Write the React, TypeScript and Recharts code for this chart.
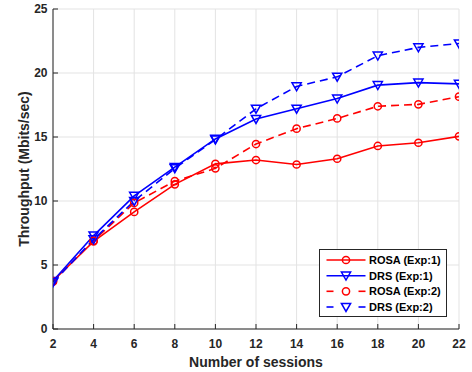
import React from 'react';
import { LineChart, Line, XAxis, YAxis, CartesianGrid, Legend } from 'recharts';

// Number of concurrent sessions (x values)
const sessions = [2, 4, 6, 8, 10, 12, 14, 16, 18, 20, 22];

// Throughput in Mbits/sec for each scheme and experiment
const rosaExp1 = [3.75, 6.85, 9.15, 11.3, 12.9, 13.2, 12.85, 13.3, 14.3, 14.55, 15.05];
const drsExp1 = [3.75, 7.3, 10.4, 12.65, 14.85, 16.4, 17.2, 18.0, 19.05, 19.25, 19.15];
const rosaExp2 = [3.7, 6.9, 9.85, 11.55, 12.55, 14.45, 15.65, 16.45, 17.4, 17.55, 18.15];
const drsExp2 = [3.65, 7.0, 10.0, 12.55, 14.8, 17.2, 18.95, 19.7, 21.35, 22.0, 22.3];

const xTicks = [2, 4, 6, 8, 10, 12, 14, 16, 18, 20, 22];
const yTicks = [0, 5, 10, 15, 20, 25];

const seriesNames = ['ROSA (Exp:1)', 'DRS (Exp:1)', 'ROSA (Exp:2)', 'DRS (Exp:2)'];

const data = sessions.map((s, i) => ({
  sessions: s,
  rosa1: rosaExp1[i],
  drs1: drsExp1[i],
  rosa2: rosaExp2[i],
  drs2: drsExp2[i],
}));

const RED = '#ff0000';
const BLUE = '#0000ff';
const AXIS = '#262626';
const FONT = '"Liberation Sans", Arial, sans-serif';

const circlePath = (cx: number, cy: number, color: string, key?: any) => (
  <circle key={key} cx={cx} cy={cy} r={3.6} fill="none" stroke={color} strokeWidth={1.5} />
);

const trianglePath = (cx: number, cy: number, color: string, key?: any) => (
  <path
    key={key}
    d={`M${cx - 4.6},${cy - 3.6} L${cx + 4.6},${cy - 3.6} L${cx},${cy + 4.4} Z`}
    fill="none"
    stroke={color}
    strokeWidth={1.5}
    strokeLinejoin="miter"
  />
);

const circleDot = (color: string) => (props: any) =>
  circlePath(props.cx, props.cy, color, `c-${props.index}`);
const triangleDot = (color: string) => (props: any) =>
  trianglePath(props.cx, props.cy, color, `t-${props.index}`);

const emptyTick = () => <g />;

const legendRows = [
  { name: seriesNames[0], color: RED, dashed: false, marker: 'circle' },
  { name: seriesNames[1], color: BLUE, dashed: false, marker: 'triangle' },
  { name: seriesNames[2], color: RED, dashed: true, marker: 'circle' },
  { name: seriesNames[3], color: BLUE, dashed: true, marker: 'triangle' },
];

const LegendBox = () => {
  const w = 128;
  const h = 68;
  const rowY = [11, 26.7, 42.3, 58];
  return (
    <svg width={w} height={h} style={{ display: 'block' }}>
      <rect x={0.5} y={0.5} width={w - 1} height={h - 1} fill="#ffffff" stroke={AXIS} strokeWidth={1} />
      {legendRows.map((r, i) => {
        const y = rowY[i];
        return (
          <g key={r.name}>
            {r.dashed ? (
              <g stroke={r.color} strokeWidth={1.6}>
                <line x1={7.5} y1={y} x2={14.5} y2={y} />
                <line x1={39.5} y1={y} x2={46.5} y2={y} />
              </g>
            ) : (
              <line x1={7.5} y1={y} x2={46.5} y2={y} stroke={r.color} strokeWidth={1.6} />
            )}
            {r.marker === 'circle' ? circlePath(27, y, r.color) : trianglePath(27, y, r.color)}
            <text
              x={50}
              y={y + 4}
              fontFamily={FONT}
              fontSize={11}
              fontWeight="bold"
              fill="#000000"
            >
              {r.name}
            </text>
          </g>
        );
      })}
    </svg>
  );
};

const tickStyle = { fontFamily: FONT, fontSize: 12, fontWeight: 'bold', fill: AXIS } as any;

export default function App() {
  return (
    <div style={{ position: 'absolute', left: 0, top: 0, width: 472, height: 372, background: '#ffffff' }}>
      <LineChart
        width={472}
        height={372}
        data={data}
        margin={{ top: 9, right: 13, bottom: 0, left: 0 }}
      >
        <CartesianGrid stroke="#e3e3e3" strokeWidth={1} horizontalValues={yTicks} verticalValues={xTicks} />
        <XAxis
          dataKey="sessions"
          type="number"
          domain={[2, 22]}
          ticks={xTicks}
          allowDataOverflow
          height={43}
          stroke={AXIS}
          tickSize={-5}
          tickMargin={15.5}
          tick={tickStyle}
          interval={0}
          label={{
            content: () => (
              <text
                x={256}
                y={366.5}
                textAnchor="middle"
                fontFamily={FONT}
                fontSize={14}
                fontWeight="bold"
                fill={AXIS}
              >
                Number of sessions
              </text>
            ),
          }}
        />
        <XAxis
          xAxisId="top"
          dataKey="sessions"
          type="number"
          orientation="top"
          domain={[2, 22]}
          ticks={xTicks}
          height={0}
          mirror
          stroke={AXIS}
          tickSize={5}
          tick={emptyTick}
          interval={0}
        />
        <YAxis
          type="number"
          domain={[0, 25]}
          ticks={yTicks}
          width={53}
          stroke={AXIS}
          tickSize={-5}
          tickMargin={10.5}
          tick={tickStyle}
          interval={0}
          label={{
            content: () => (
              <text
                x={29}
                y={169}
                transform="rotate(-90 29 169)"
                textAnchor="middle"
                fontFamily={FONT}
                fontSize={14}
                fontWeight="bold"
                fill={AXIS}
              >
                Throughput (Mbits/sec)
              </text>
            ),
          }}
        />
        <YAxis
          yAxisId="right"
          type="number"
          orientation="right"
          domain={[0, 25]}
          ticks={yTicks}
          width={0}
          mirror
          stroke={AXIS}
          tickSize={5}
          tick={emptyTick}
          interval={0}
        />
        <Line
          type="linear"
          dataKey="rosa1"
          name={seriesNames[0]}
          stroke={RED}
          strokeWidth={1.6}
          dot={circleDot(RED)}
          activeDot={false}
          isAnimationActive={false}
        />
        <Line
          type="linear"
          dataKey="drs1"
          name={seriesNames[1]}
          stroke={BLUE}
          strokeWidth={1.6}
          dot={triangleDot(BLUE)}
          activeDot={false}
          isAnimationActive={false}
        />
        <Line
          type="linear"
          dataKey="rosa2"
          name={seriesNames[2]}
          stroke={RED}
          strokeWidth={1.6}
          strokeDasharray="8 5"
          dot={circleDot(RED)}
          activeDot={false}
          isAnimationActive={false}
        />
        <Line
          type="linear"
          dataKey="drs2"
          name={seriesNames[3]}
          stroke={BLUE}
          strokeWidth={1.6}
          strokeDasharray="8 5"
          dot={triangleDot(BLUE)}
          activeDot={false}
          isAnimationActive={false}
        />
        <Legend
          layout="horizontal"
          verticalAlign="middle"
          align="center"
          content={() => <LegendBox />}
          wrapperStyle={{ position: 'absolute', left: 319, top: 249, width: 128, height: 68, margin: 0, padding: 0 }}
        />
      </LineChart>
    </div>
  );
}
